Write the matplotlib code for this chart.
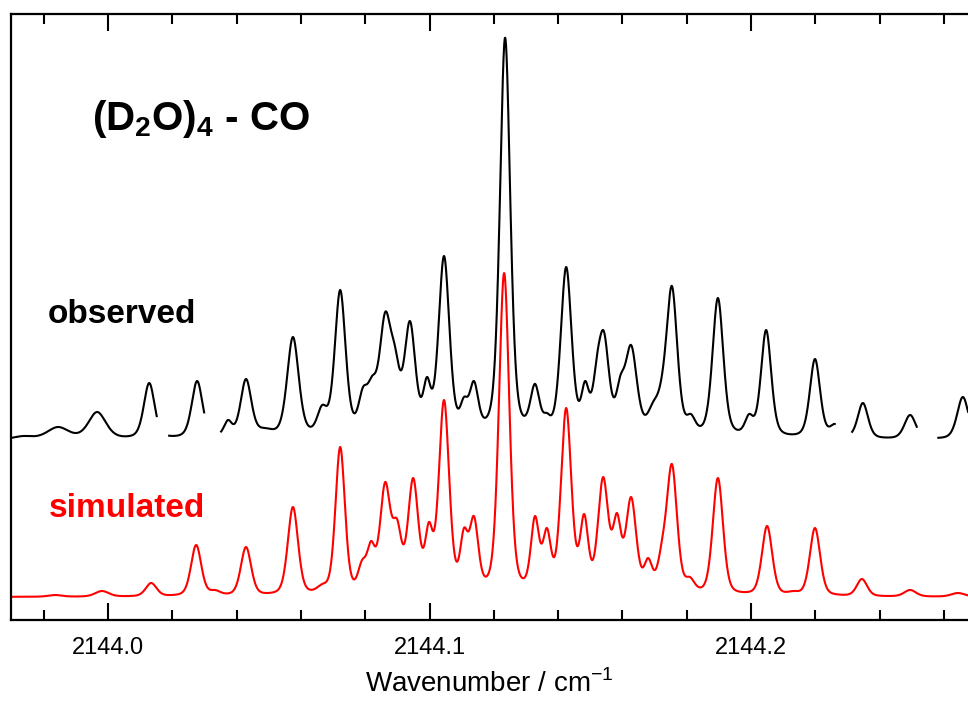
import numpy as np
import matplotlib
matplotlib.use("Agg")
import matplotlib.pyplot as plt
from matplotlib.ticker import MultipleLocator, FormatStrFormatter

# espectro (D2O)4-CO: lista de linhas lidas da figura
# posicao (cm-1), altura aparente (u.a.), largura (1e-3 cm-1)
OBS_POS = [2143.9736, 2143.9844, 2143.9966, 2144.0128, 2144.0277, 2144.0373,
           2144.0429, 2144.0488, 2144.0575, 2144.0666, 2144.0722, 2144.0793,
           2144.0821, 2144.0862, 2144.0893, 2144.0939, 2144.0992, 2144.1045,
           2144.1107, 2144.1138, 2144.1235, 2144.1272, 2144.1328, 2144.1365,
           2144.1425, 2144.1484, 2144.1521, 2144.1543, 2144.1593, 2144.1627,
           2144.1695, 2144.1723, 2144.1754, 2144.1813, 2144.1897, 2144.1994,
           2144.2047, 2144.2199, 2144.2261, 2144.2348, 2144.2495, 2144.2659]
OBS_HEIGHT = [4, 13, 28, 57, 59, 20, 61, 12, 103, 35,
              150, 53, 64, 128, 93, 119, 63, 184, 43, 59,
              402, 50, 56, 27, 173, 59, 85, 108, 64, 95,
              38, 65, 154, 26, 142, 26, 110, 81, 16, 37,
              25, 43]
OBS_WIDTH = [7, 8, 6.5, 4, 4, 3, 4, 6, 4.3, 3.6,
             4, 3.4, 3.4, 4.3, 3.6, 4, 2.8, 4, 2.8, 3.2,
             3.8, 3, 3.4, 2.6, 4, 2.8, 3.4, 3.8, 3.2, 4.3,
             4.2, 4.2, 4, 3.2, 4, 3, 3.8, 3.8, 3.6, 3.8,
             4.2, 4.2]
# trechos sem dados no espectro observado
OBS_GAPS = [(2144.0152, 2144.0190), (2144.0299, 2144.0351),
            (2144.2261, 2144.2314), (2144.2516, 2144.2582)]

SIM_POS = [2143.9835, 2143.9981, 2144.0134, 2144.0274, 2144.0333, 2144.0429,
           2144.0575, 2144.0666, 2144.0722, 2144.0790, 2144.0818, 2144.0862,
           2144.0899, 2144.0949, 2144.0998, 2144.1045, 2144.1107, 2144.1138,
           2144.1232, 2144.1328, 2144.1365, 2144.1425, 2144.1481, 2144.1540,
           2144.1583, 2144.1627, 2144.1680, 2144.1723, 2144.1754, 2144.1810,
           2144.1897, 2144.1988, 2144.2050, 2144.2131, 2144.2199, 2144.2345,
           2144.2495, 2144.2644]
SIM_HEIGHT = [2, 6, 14, 52, 7, 50, 90, 13, 150, 37,
              56, 115, 78, 119, 75, 197, 69, 81, 324, 81,
              69, 189, 83, 120, 84, 100, 39, 57, 133, 20,
              119, 5, 71, 6, 69, 18, 7, 4]
SIM_WIDTH = [5, 5, 4, 3.8, 3.8, 3.8, 3.8, 3.8, 3.5, 3.0,
             3.0, 3.8, 3.3, 3.8, 2.8, 3.8, 2.8, 3.2, 3.8, 3.0,
             3.0, 3.8, 3.0, 3.8, 3.0, 3.8, 3.0, 3.4, 3.8, 3.4,
             3.8, 3.8, 3.8, 3.8, 3.8, 3.8, 4.4, 5]

OBS_OFFSET = 180
SIM_OFFSET = 23
XLIM = (2143.9698, 2144.2675)
YLIM = (0, 606)


def perfil(x, c, w, eta):
    # pseudo-Voigt com pico unitario
    u = 4 * (x - c) ** 2 / w ** 2
    return eta / (1 + u) + (1 - eta) * np.exp(-np.log(2) * u)


def espectro(x, pos, alt, larg, eta):
    pos = np.asarray(pos)
    larg = np.asarray(larg) * 1e-3
    A = np.array([[perfil(c, pj, wj, eta) for pj, wj in zip(pos, larg)] for c in pos])
    amp = np.clip(np.linalg.solve(A, np.asarray(alt, float)), 0, None)
    y = np.zeros_like(x)
    for a, c, w in zip(amp, pos, larg):
        y += a * perfil(x, c, w, eta)
    return y


def main():
    plt.rcParams["font.family"] = ["Liberation Sans", "DejaVu Sans"]
    plt.rcParams["mathtext.fontset"] = "custom"
    plt.rcParams["mathtext.bf"] = "Liberation Sans:bold"
    plt.rcParams["mathtext.rm"] = "Liberation Sans"

    x = np.linspace(XLIM[0], XLIM[1], 4000)
    y_obs = OBS_OFFSET + espectro(x, OBS_POS, OBS_HEIGHT, OBS_WIDTH, 0.4)
    for a, b in OBS_GAPS:
        y_obs[(x > a) & (x < b)] = np.nan
    y_sim = SIM_OFFSET + espectro(x, SIM_POS, SIM_HEIGHT, SIM_WIDTH, 0.35)

    fig = plt.figure(figsize=(9.68, 7.05), dpi=100)
    ax = fig.add_axes([11 / 968, 85 / 705, 1 - 11 / 968, 606 / 705])
    ax.plot(x, y_obs, color="black", lw=1.5)
    ax.plot(x, y_sim, color="red", lw=1.5)

    ax.set_xlim(*XLIM)
    ax.set_ylim(*YLIM)
    ax.spines["right"].set_visible(False)
    for s in ("left", "bottom", "top"):
        ax.spines[s].set_linewidth(1.6)
    ax.set_yticks([])
    ax.xaxis.set_major_locator(MultipleLocator(0.1))
    ax.xaxis.set_minor_locator(MultipleLocator(0.02))
    ax.xaxis.set_major_formatter(FormatStrFormatter("%.1f"))
    ax.tick_params(axis="x", which="both", direction="in", top=True, width=1.5)
    ax.tick_params(axis="x", which="major", length=12, pad=12, labelsize=17)
    ax.tick_params(axis="x", which="minor", length=7)
    ax.set_xlabel("Wavenumber / cm$^{-1}$", fontsize=20, labelpad=8)

    ax.text(92 / 968, 1 - 130 / 705, r"(D$_\mathbf{2}$O)$_\mathbf{4}$ - CO",
            transform=fig.transFigure, fontsize=29, fontweight="bold", va="baseline")
    ax.text(48 / 968, 1 - 323 / 705, "observed", transform=fig.transFigure,
            fontsize=24, fontweight="bold", va="baseline", color="black")
    ax.text(49 / 968, 1 - 517 / 705, "simulated", transform=fig.transFigure,
            fontsize=24, fontweight="bold", va="baseline", color="red")

    fig.savefig("out.png", dpi=100)
    plt.close(fig)


if __name__ == "__main__":
    main()
